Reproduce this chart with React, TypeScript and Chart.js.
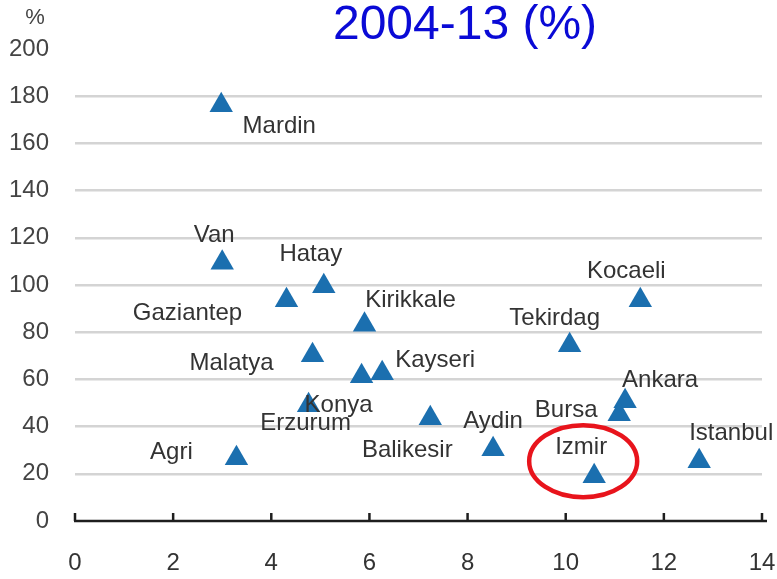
import React, { useEffect, useRef } from "react";
import { Chart, registerables } from "chart.js";

Chart.register(...registerables);

// ---- data ----
const provinces = [
  "Mardin", "Van", "Hatay", "Gaziantep", "Kirikkale", "Malatya", "Erzurum", "Kayseri", "Konya",
  "Balikesir", "Aydin", "Agri", "Tekirdag", "Kocaeli", "Ankara", "Bursa", "Izmir", "Istanbul",
];
const xValues = [2.98, 3.0, 5.07, 4.31, 5.9, 4.84, 5.84, 6.26, 4.76, 7.24, 8.52, 3.29, 10.08, 11.52, 11.21, 11.09, 10.58, 12.72];
const yValues = [176.2, 109.4, 99.5, 93.5, 83.2, 70.2, 61.3, 62.6, 49.0, 43.5, 30.4, 26.6, 74.5, 93.5, 50.7, 45.2, 19.0, 25.3];
const xTicks = [0, 2, 4, 6, 8, 10, 12, 14];
const yTicks = [0, 20, 40, 60, 80, 100, 120, 140, 160, 180, 200];
const titleText = "2004-13 (%)";
const yUnit = "%";
const highlighted = "Izmir";

// ---- layout of annotations (pixel offsets from each marker) ----
const labelOffsets: [number, number][] = [
  [58, 28], [-8, -21], [-13, -25], [-99, 20], [46, -18], [-81, 15], [-56, 54], [53, -6], [30, 7],
  [-23, 39], [0, -21], [-65, 1], [-15, -20], [-14, -22], [35, -14], [-53, 3], [-13, -22], [32, -21],
];

const FONT = "'Liberation Sans', Arial, sans-serif";

const overlay = {
  id: "overlay",
  afterDatasetsDraw(chart: any) {
    const ctx = chart.ctx as CanvasRenderingContext2D;
    const xs = chart.scales.x;
    const ys = chart.scales.y;
    ctx.save();
    // x axis line with inward ticks
    const y0 = ys.getPixelForValue(0);
    ctx.strokeStyle = "#1e1e1e";
    ctx.lineWidth = 2.5;
    ctx.beginPath();
    ctx.moveTo(xs.getPixelForValue(xTicks[0]) - 1, y0);
    ctx.lineTo(xs.getPixelForValue(xTicks[xTicks.length - 1]) + 5, y0);
    ctx.stroke();
    xTicks.forEach((v) => {
      const px = xs.getPixelForValue(v);
      ctx.beginPath();
      ctx.moveTo(px, y0);
      ctx.lineTo(px, y0 - 8);
      ctx.stroke();
    });
    // point labels
    ctx.font = `24px ${FONT}`;
    ctx.fillStyle = "#333333";
    ctx.textAlign = "center";
    ctx.textBaseline = "alphabetic";
    provinces.forEach((name, i) => {
      const px = xs.getPixelForValue(xValues[i]);
      const py = ys.getPixelForValue(yValues[i]);
      ctx.fillText(name, px + labelOffsets[i][0], py + labelOffsets[i][1]);
    });
    // highlight ellipse
    const hi = provinces.indexOf(highlighted);
    if (hi >= 0) {
      const px = xs.getPixelForValue(xValues[hi]);
      const py = ys.getPixelForValue(yValues[hi]);
      ctx.strokeStyle = "#e8141c";
      ctx.lineWidth = 4.5;
      ctx.beginPath();
      ctx.ellipse(px - 11, py - 15, 54, 36, 0, 0, Math.PI * 2);
      ctx.stroke();
    }
    // title and unit
    ctx.fillStyle = "#0a0ad6";
    ctx.font = `48px ${FONT}`;
    ctx.textAlign = "center";
    ctx.fillText(titleText, 465, 39);
    ctx.fillStyle = "#444444";
    ctx.font = `22px ${FONT}`;
    ctx.fillText(yUnit, 35, 24);
    ctx.restore();
  },
};

export default function App() {
  const ref = useRef<HTMLCanvasElement | null>(null);
  useEffect(() => {
    if (!ref.current) return;
    const chart = new Chart(ref.current, {
      type: "scatter",
      data: {
        datasets: [
          {
            label: "provinces",
            data: xValues.map((x, i) => ({ x, y: yValues[i] })),
            pointStyle: "triangle",
            pointRadius: 13.5,
            pointHoverRadius: 13.5,
            backgroundColor: "#1b6faf",
            borderColor: "#1b6faf",
            borderWidth: 0,
          },
        ],
      },
      options: {
        responsive: false,
        animation: false,
        devicePixelRatio: 1,
        layout: { padding: { left: 0, right: 15, top: 49, bottom: 0 } },
        plugins: { legend: { display: false }, tooltip: { enabled: false }, title: { display: false } },
        scales: {
          x: {
            type: "linear",
            min: xTicks[0],
            max: xTicks[xTicks.length - 1],
            afterBuildTicks: (s: any) => { s.ticks = xTicks.map((v) => ({ value: v })); },
            afterFit: (s: any) => { s.height = 58; s.paddingLeft = 0; s.paddingRight = 0; },
            grid: { display: false, drawTicks: false },
            border: { display: false },
            ticks: { color: "#333333", font: { family: FONT, size: 24 }, padding: 28, maxRotation: 0 },
          },
          y: {
            type: "linear",
            min: yTicks[0],
            max: yTicks[yTicks.length - 1],
            afterBuildTicks: (s: any) => { s.ticks = yTicks.map((v) => ({ value: v })); },
            afterFit: (s: any) => { s.width = 75; s.paddingTop = 0; s.paddingBottom = 0; },
            grid: {
              drawTicks: false,
              lineWidth: 2.5,
              color: (c: any) => (c.tick && (c.tick.value === 0 || c.tick.value === 200) ? "rgba(0,0,0,0)" : "#d4d4d4"),
            },
            border: { display: false },
            ticks: { color: "#444444", font: { family: FONT, size: 24 }, padding: 26 },
          },
        },
      },
      plugins: [overlay],
    });
    return () => chart.destroy();
  }, []);
  return (
    <div style={{ position: "fixed", left: 0, top: 0, width: 777, height: 579, background: "#fff" }}>
      <canvas ref={ref} width={777} height={579} style={{ width: 777, height: 579, display: "block" }} />
    </div>
  );
}
